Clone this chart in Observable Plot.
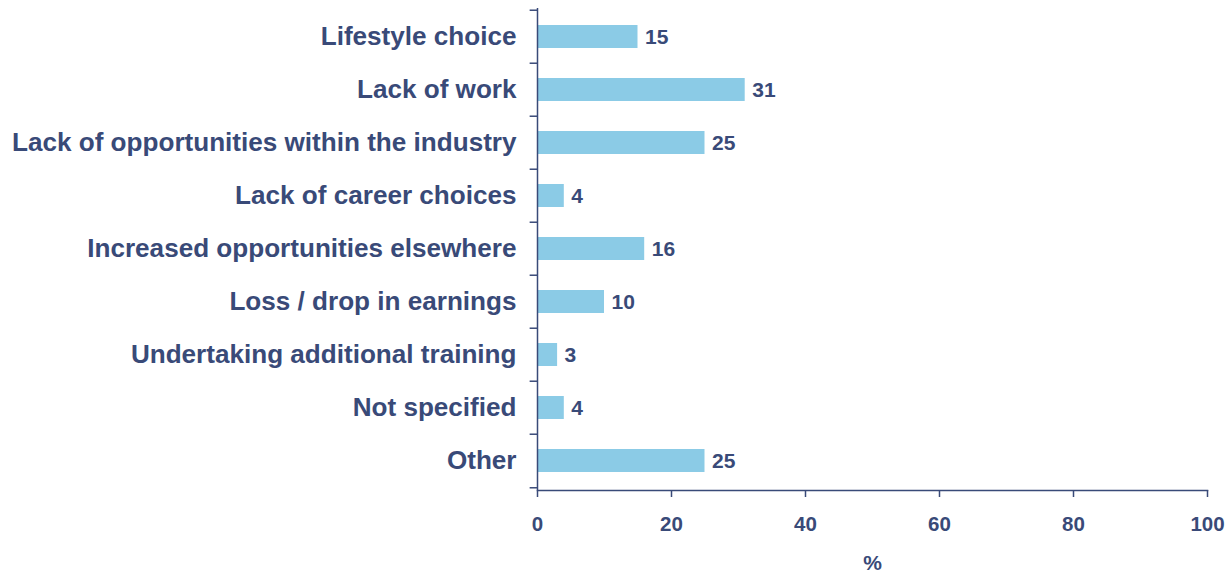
<!DOCTYPE html>
<html>
<head>
<meta charset="utf-8">
<script src="https://cdn.jsdelivr.net/npm/d3@7"></script>
<script src="https://cdn.jsdelivr.net/npm/@observablehq/plot@0.6"></script>
<style>
  html, body { margin: 0; padding: 0; background: #fff; }
  #chart svg { display: block; }
</style>
</head>
<body>
<div id="chart"></div>
<script>
const categories = [
  "Lifestyle choice",
  "Lack of work",
  "Lack of opportunities within the industry",
  "Lack of career choices",
  "Increased opportunities elsewhere",
  "Loss / drop in earnings",
  "Undertaking additional training",
  "Not specified",
  "Other"
];
const values = [15, 31, 25, 4, 16, 10, 3, 4, 25];
const xTicks = [0, 20, 40, 60, 80, 100];
const xLabel = "%";

const data = categories.map((c, i) => ({category: c, value: values[i]}));

const W = 1226, H = 573;
const mTop = 8, mBottom = 83, mLeft = 537, mRight = 19;
const half = (H - mTop - mBottom) / categories.length / 2;
const navy = "#394a78";
const barColor = "#8bcbe6";
const font = "'Liberation Sans', Arial, Helvetica, sans-serif";

const chart = Plot.plot({
  width: W,
  height: H,
  marginTop: mTop,
  marginBottom: mBottom,
  marginLeft: mLeft,
  marginRight: mRight,
  style: {fontFamily: font, fontWeight: "bold", color: navy, background: "#fff"},
  x: {domain: [0, 100]},
  y: {domain: categories, paddingInner: 0.56, paddingOuter: 0.28, align: 0.5},
  marks: [
    Plot.barX(data, {x: "value", y: "category", fill: barColor, insetLeft: 1}),
    Plot.text(data, {x: "value", y: "category", text: d => String(d.value), textAnchor: "start", dx: 7, dy: 0.5, fontSize: 21, fontWeight: "bold", fill: navy}),
    Plot.ruleX([0], {stroke: navy, strokeWidth: 1.5}),
    Plot.frame({anchor: "bottom", stroke: navy, strokeWidth: 1.5}),
    Plot.ruleY(categories, {y: d => d, x1: -1.1, x2: 0, dy: -half, stroke: navy, strokeWidth: 1.5}),
    Plot.ruleY([categories[categories.length - 1]], {y: d => d, x1: -1.1, x2: 0, dy: half, stroke: navy, strokeWidth: 1.5}),
    Plot.axisY({tickSize: 0, tickPadding: 21, fontSize: 26.1, fontWeight: "bold", fill: navy, label: null}),
    Plot.axisX({ticks: xTicks, tickSize: 7, tickPadding: 19, fontSize: 20.5, fontWeight: "bold", stroke: navy, fill: navy, label: null, tickFormat: d => String(d), strokeWidth: 1.5}),
    Plot.text([xLabel], {x: () => 50, frameAnchor: "bottom", text: d => d, dy: 79, fontSize: 21, fontWeight: "bold", fill: navy})
  ]
});
document.getElementById("chart").appendChild(chart);
</script>
</body>
</html>
